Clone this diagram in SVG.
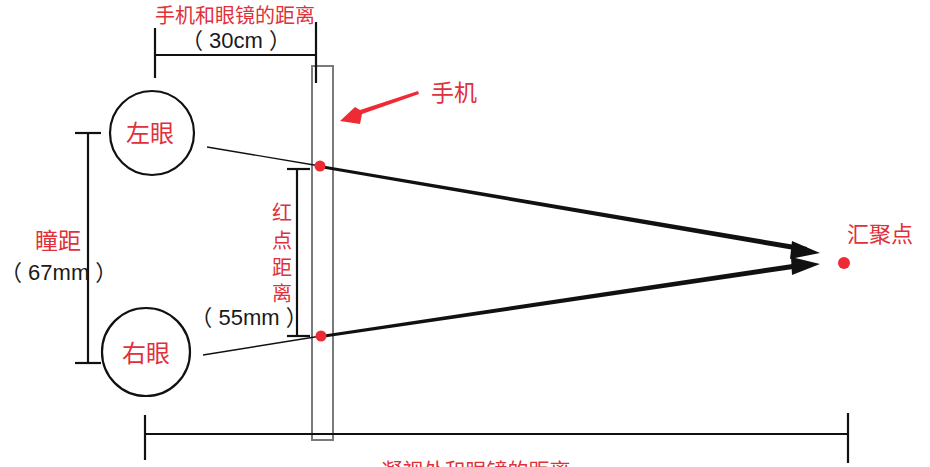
<svg xmlns="http://www.w3.org/2000/svg" width="930" height="467" viewBox="0 0 930 467">
<style>
.red{fill:#e0303a;font-family:"Noto Sans CJK SC","Liberation Sans",sans-serif;}
.blk{fill:#1a1a1a;font-family:"Liberation Sans","Noto Sans CJK SC",sans-serif;}
.dim{stroke:#111;stroke-width:2.2;fill:none;}
.eye{fill:#fff;stroke:#111;stroke-width:2.2;}
.dot{fill:#ee2a35;}
</style>
<rect width="930" height="467" fill="#fff"/>

<g id="phone">
<rect x="312" y="66" width="21" height="374" fill="none" stroke="#7a7a7a" stroke-width="2"/>
</g>

<g id="connectors">
<!-- top dimension -->
<line class="dim" x1="155" y1="28" x2="155" y2="78"/>
<line class="dim" x1="155" y1="55" x2="316" y2="55"/>
<line class="dim" x1="316" y1="22" x2="316" y2="83"/>
<!-- pupil distance -->
<line class="dim" x1="75" y1="133" x2="101" y2="133"/>
<line class="dim" x1="88" y1="133" x2="88" y2="363"/>
<line class="dim" x1="75" y1="363" x2="101" y2="363"/>
<!-- red dot distance -->
<line class="dim" x1="287" y1="169" x2="310" y2="169"/>
<line class="dim" x1="297" y1="169" x2="297" y2="336"/>
<line class="dim" x1="287" y1="336" x2="310" y2="336"/>
<!-- bottom dimension -->
<line class="dim" x1="145" y1="415" x2="145" y2="460" stroke-width="2.5"/>
<line class="dim" x1="145" y1="434" x2="848" y2="434" stroke-width="3"/>
<line class="dim" x1="848" y1="413" x2="848" y2="463" stroke-width="2.5"/>
<!-- sight lines -->
<line x1="207" y1="147" x2="320" y2="166" stroke="#111" stroke-width="1.4"/>
<line x1="203" y1="355" x2="321" y2="336" stroke="#111" stroke-width="1.4"/>
<polygon points="320,165 807,247 806,252 320,168" fill="#111"/>
<polygon points="321,335 806,262 807,267 321,338" fill="#111"/>
<polygon points="792,241 820,253 790,259" fill="#111"/>
<polygon points="791,257 820,264 792,275" fill="#111"/>
<!-- phone pointer -->
<polygon points="418,91 419,94 362,114 360,124 340,121 355,107 360,110" fill="#ee2a35"/>
</g>

<g id="left-eye">
<circle class="eye" cx="152" cy="133" r="42"/>
<text class="red" x="150" y="142" font-size="24" text-anchor="middle">左眼</text>
</g>
<g id="right-eye">
<circle class="eye" cx="146" cy="352" r="44"/>
<text class="red" x="146" y="362" font-size="24" text-anchor="middle">右眼</text>
</g>

<g id="red-dots">
<circle class="dot" cx="320" cy="166" r="5.5"/>
<circle class="dot" cx="321" cy="336" r="5.5"/>
</g>

<g id="convergence">
<circle class="dot" cx="844" cy="263" r="6"/>
<text class="red" x="880" y="242" font-size="22" text-anchor="middle">汇聚点</text>
</g>

<g id="labels">
<text class="red" x="235" y="23" font-size="20" text-anchor="middle">手机和眼镜的距离</text>
<text class="blk" x="236" y="48" font-size="22" text-anchor="middle">（ 30cm ）</text>
<text class="red" x="454" y="101" font-size="23" text-anchor="middle">手机</text>
<text class="red" x="58" y="249" font-size="23" text-anchor="middle">瞳距</text>
<text class="blk" x="0" y="280" font-size="22">（ 67mm ）</text>
<text class="red" x="282" y="220" font-size="20" text-anchor="middle">红</text>
<text class="red" x="282" y="248" font-size="20" text-anchor="middle">点</text>
<text class="red" x="282" y="275" font-size="20" text-anchor="middle">距</text>
<text class="red" x="282" y="301" font-size="20" text-anchor="middle">离</text>
<text class="blk" x="249" y="325" font-size="22" text-anchor="middle">（ 55mm ）</text>
<text class="red" x="476" y="478" font-size="21" text-anchor="middle">凝视处和眼镜的距离</text>
</g>
</svg>
